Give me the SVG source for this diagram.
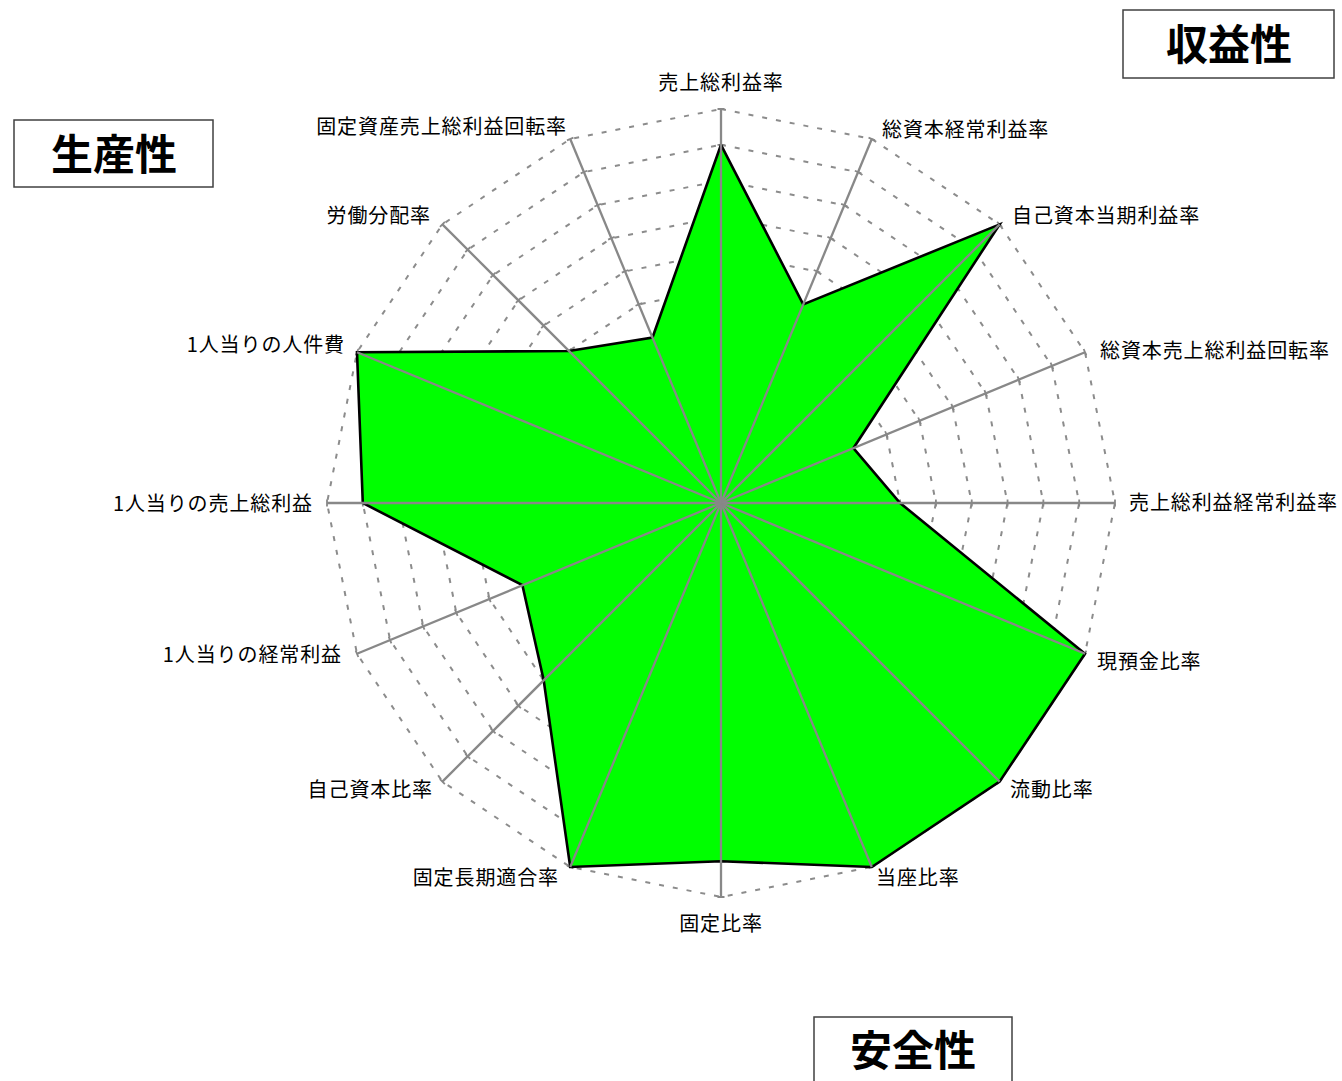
<svg xmlns="http://www.w3.org/2000/svg" xmlns:xlink="http://www.w3.org/1999/xlink" width="1342" height="1081" viewBox="0 0 1342 1081">
<style>
.ring{fill:none;stroke:#8c8c8c;stroke-width:2;stroke-dasharray:5 9}
.tick{stroke:#888;stroke-width:7;stroke-dasharray:1.8 34.018;stroke-dashoffset:0.9}
.axis{stroke:#888;stroke-width:2.3}
.lbl{font-family:"Noto Sans CJK JP","Noto Sans",sans-serif;font-size:20px;letter-spacing:0.9px;fill:#000}
.cat rect{fill:#fff;stroke:#404040;stroke-width:1.5}
.cat text{font-family:"Noto Sans CJK JP","Noto Sans",sans-serif;font-size:42px;font-weight:bold;text-anchor:middle;fill:#000}
</style>
<defs>
<line id="tk" class="tick" x1="0" y1="0" x2="0" y2="-394.9"/>
<line id="ax" class="axis" x1="0" y1="0" x2="0" y2="-394"/>
</defs>
<rect width="1342" height="1081" fill="#fff"/>
<g id="grid" transform="translate(721,503)">
<polygon class="ring" points="0,-35.8 13.7,-33.1 25.3,-25.3 33.1,-13.7 35.8,0 33.1,13.7 25.3,25.3 13.7,33.1 0,35.8 -13.7,33.1 -25.3,25.3 -33.1,13.7 -35.8,0 -33.1,-13.7 -25.3,-25.3 -13.7,-33.1"/>
<polygon class="ring" points="0,-71.6 27.4,-66.2 50.7,-50.7 66.2,-27.4 71.6,0 66.2,27.4 50.7,50.7 27.4,66.2 0,71.6 -27.4,66.2 -50.7,50.7 -66.2,27.4 -71.6,0 -66.2,-27.4 -50.7,-50.7 -27.4,-66.2"/>
<polygon class="ring" points="0,-107.5 41.1,-99.3 76,-76 99.3,-41.1 107.5,0 99.3,41.1 76,76 41.1,99.3 0,107.5 -41.1,99.3 -76,76 -99.3,41.1 -107.5,0 -99.3,-41.1 -76,-76 -41.1,-99.3"/>
<polygon class="ring" points="0,-143.3 54.8,-132.4 101.3,-101.3 132.4,-54.8 143.3,0 132.4,54.8 101.3,101.3 54.8,132.4 0,143.3 -54.8,132.4 -101.3,101.3 -132.4,54.8 -143.3,0 -132.4,-54.8 -101.3,-101.3 -54.8,-132.4"/>
<polygon class="ring" points="0,-179.1 68.5,-165.5 126.6,-126.6 165.5,-68.5 179.1,0 165.5,68.5 126.6,126.6 68.5,165.5 0,179.1 -68.5,165.5 -126.6,126.6 -165.5,68.5 -179.1,0 -165.5,-68.5 -126.6,-126.6 -68.5,-165.5"/>
<polygon class="ring" points="0,-214.9 82.2,-198.6 152,-152 198.6,-82.2 214.9,0 198.6,82.2 152,152 82.2,198.6 0,214.9 -82.2,198.6 -152,152 -198.6,82.2 -214.9,0 -198.6,-82.2 -152,-152 -82.2,-198.6"/>
<polygon class="ring" points="0,-250.7 95.9,-231.6 177.3,-177.3 231.6,-95.9 250.7,0 231.6,95.9 177.3,177.3 95.9,231.6 0,250.7 -95.9,231.6 -177.3,177.3 -231.6,95.9 -250.7,0 -231.6,-95.9 -177.3,-177.3 -95.9,-231.6"/>
<polygon class="ring" points="0,-286.5 109.7,-264.7 202.6,-202.6 264.7,-109.7 286.5,0 264.7,109.7 202.6,202.6 109.7,264.7 0,286.5 -109.7,264.7 -202.6,202.6 -264.7,109.7 -286.5,0 -264.7,-109.7 -202.6,-202.6 -109.7,-264.7"/>
<polygon class="ring" points="0,-322.4 123.4,-297.8 227.9,-227.9 297.8,-123.4 322.4,0 297.8,123.4 227.9,227.9 123.4,297.8 0,322.4 -123.4,297.8 -227.9,227.9 -297.8,123.4 -322.4,0 -297.8,-123.4 -227.9,-227.9 -123.4,-297.8"/>
<polygon class="ring" points="0,-358.2 137.1,-330.9 253.3,-253.3 330.9,-137.1 358.2,0 330.9,137.1 253.3,253.3 137.1,330.9 0,358.2 -137.1,330.9 -253.3,253.3 -330.9,137.1 -358.2,0 -330.9,-137.1 -253.3,-253.3 -137.1,-330.9"/>
<polygon class="ring" points="0,-394 150.8,-364 278.6,-278.6 364,-150.8 394,0 364,150.8 278.6,278.6 150.8,364 0,394 -150.8,364 -278.6,278.6 -364,150.8 -394,0 -364,-150.8 -278.6,-278.6 -150.8,-364"/>
<use xlink:href="#tk"/>
<use xlink:href="#tk" transform="rotate(22.5)"/>
<use xlink:href="#tk" transform="rotate(45)"/>
<use xlink:href="#tk" transform="rotate(67.5)"/>
<use xlink:href="#tk" transform="rotate(90)"/>
<use xlink:href="#tk" transform="rotate(112.5)"/>
<use xlink:href="#tk" transform="rotate(135)"/>
<use xlink:href="#tk" transform="rotate(157.5)"/>
<use xlink:href="#tk" transform="rotate(180)"/>
<use xlink:href="#tk" transform="rotate(202.5)"/>
<use xlink:href="#tk" transform="rotate(225)"/>
<use xlink:href="#tk" transform="rotate(247.5)"/>
<use xlink:href="#tk" transform="rotate(270)"/>
<use xlink:href="#tk" transform="rotate(292.5)"/>
<use xlink:href="#tk" transform="rotate(315)"/>
<use xlink:href="#tk" transform="rotate(337.5)"/>
</g>
<g id="data" transform="translate(721,503)">
<polygon points="0,-358.2 82.2,-198.6 278.6,-278.6 132.4,-54.8 179.1,0 364,150.8 278.6,278.6 150.8,364 0,358.2 -150.8,364 -177.3,177.3 -198.6,82.2 -358.2,0 -364,-150.8 -152,-152 -68.5,-165.5" fill="#00ff00" stroke="#000" stroke-width="2.6" stroke-linejoin="miter"/>
</g>
<g id="connectors" transform="translate(721,503)">
<use xlink:href="#ax"/>
<use xlink:href="#ax" transform="rotate(22.5)"/>
<use xlink:href="#ax" transform="rotate(45)"/>
<use xlink:href="#ax" transform="rotate(67.5)"/>
<use xlink:href="#ax" transform="rotate(90)"/>
<use xlink:href="#ax" transform="rotate(112.5)"/>
<use xlink:href="#ax" transform="rotate(135)"/>
<use xlink:href="#ax" transform="rotate(157.5)"/>
<use xlink:href="#ax" transform="rotate(180)"/>
<use xlink:href="#ax" transform="rotate(202.5)"/>
<use xlink:href="#ax" transform="rotate(225)"/>
<use xlink:href="#ax" transform="rotate(247.5)"/>
<use xlink:href="#ax" transform="rotate(270)"/>
<use xlink:href="#ax" transform="rotate(292.5)"/>
<use xlink:href="#ax" transform="rotate(315)"/>
<use xlink:href="#ax" transform="rotate(337.5)"/>
</g>
<g id="labels">
<g id="L0"><text class="lbl" x="721" y="89.5" text-anchor="middle">売上総利益率</text></g>
<g id="L1"><text class="lbl" x="882" y="137">総資本経常利益率</text></g>
<g id="L2"><text class="lbl" x="1012" y="222.5">自己資本当期利益率</text></g>
<g id="L3"><text class="lbl" x="1100" y="357.5">総資本売上総利益回転率</text></g>
<g id="L4"><text class="lbl" x="1129" y="510">売上総利益経常利益率</text></g>
<g id="L5"><text class="lbl" x="1097" y="669">現預金比率</text></g>
<g id="L6"><text class="lbl" x="1010" y="797">流動比率</text></g>
<g id="L7"><text class="lbl" x="876" y="885">当座比率</text></g>
<g id="L8"><text class="lbl" x="721" y="931" text-anchor="middle">固定比率</text></g>
<g id="L9"><text class="lbl" x="559" y="885" text-anchor="end">固定長期適合率</text></g>
<g id="L10"><text class="lbl" x="433" y="797" text-anchor="end">自己資本比率</text></g>
<g id="L11"><text class="lbl" x="342" y="662" text-anchor="end">1人当りの経常利益</text></g>
<g id="L12"><text class="lbl" x="313" y="511" text-anchor="end">1人当りの売上総利益</text></g>
<g id="L13"><text class="lbl" x="345" y="352" text-anchor="end">1人当りの人件費</text></g>
<g id="L14"><text class="lbl" x="431" y="223" text-anchor="end">労働分配率</text></g>
<g id="L15"><text class="lbl" x="567" y="134" text-anchor="end">固定資産売上総利益回転率</text></g>
</g>
<g id="cat-profit" class="cat"><rect x="1123" y="10" width="211" height="68"/><text x="1229" y="60">収益性</text></g>
<g id="cat-productivity" class="cat"><rect x="14" y="120" width="199" height="67"/><text x="114" y="169.5">生産性</text></g>
<g id="cat-safety" class="cat"><rect x="814" y="1017" width="198" height="80"/><text x="913" y="1066">安全性</text></g>
</svg>
